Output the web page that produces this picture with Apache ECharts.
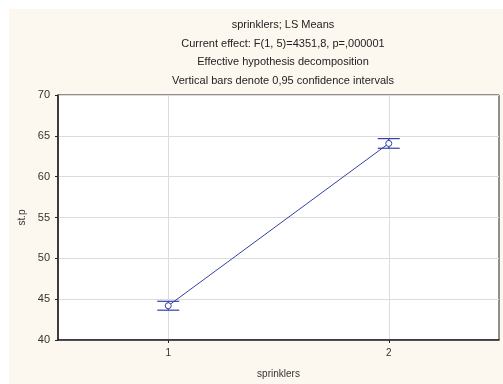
<!DOCTYPE html>
<html><head><meta charset="utf-8">
<script src="https://cdn.jsdelivr.net/npm/echarts@6/dist/echarts.min.js"></script>
<style>html,body{margin:0;padding:0;background:#fff;}#c{width:503px;height:384px;}</style>
</head><body><div id="c"></div>
<script>
const categories = [1, 2];
const means = [44.2, 64.07];
const lower = [43.65, 63.48];
const upper = [44.74, 64.66];
const yTicks = [40, 45, 50, 55, 60, 65, 70];
const titleLines = [
  'sprinklers; LS Means',
  'Current effect: F(1, 5)=4351,8, p=,000001',
  'Effective hypothesis decomposition',
  'Vertical bars denote 0,95 confidence intervals'
];

const lineColor = '#3440A6';
const chart = echarts.init(document.getElementById('c'), null, {renderer: 'canvas'});
const font = '"Liberation Sans", Arial, sans-serif';

chart.setOption({
  backgroundColor: '#ffffff',
  animation: false,
  graphic: [{
    type: 'rect', left: 9, top: 9, z: -10,
    shape: {width: 494, height: 375},
    style: {fill: '#FDF8EF'}
  }],
  title: {
    text: titleLines.join('\n'),
    left: 278, top: 11, textAlign: 'center',
    textStyle: {fontFamily: font, fontSize: 11, fontWeight: 'normal', color: '#222', lineHeight: 18.5}
  },
  grid: {left: 58, right: 4, top: 95, bottom: 42, show: true, backgroundColor: '#fff', borderColor: '#222', borderWidth: 1},
  xAxis: {
    type: 'value', min: 0.5, max: 2.5,
    name: 'sprinklers', nameLocation: 'middle', nameGap: 29,
    nameTextStyle: {fontFamily: font, fontSize: 10, color: '#333'},
    axisLine: {show: true, onZero: false, lineStyle: {color: '#222', width: 1.5}},
    axisTick: {show: true, customValues: categories, length: 3, lineStyle: {color: '#222'}},
    axisLabel: {customValues: categories, fontFamily: font, fontSize: 10, color: '#333', margin: 8},
    splitLine: {show: true, lineStyle: {color: '#dcdcdc', type: 'solid'}}
  },
  yAxis: {
    type: 'value', min: 40, max: 70, interval: 5,
    name: 'st.p', nameLocation: 'middle', nameGap: 23,
    nameTextStyle: {fontFamily: font, fontSize: 10, color: '#333'},
    axisLine: {show: true, lineStyle: {color: '#222', width: 1.5}},
    axisTick: {show: true, length: 3, lineStyle: {color: '#222'}},
    axisLabel: {fontFamily: font, fontSize: 11, color: '#333', margin: 8,
      formatter: v => yTicks.includes(v) ? String(v) : ''},
    splitLine: {show: true, lineStyle: {color: '#dcdcdc', type: 'solid'}}
  },
  series: [
    {
      type: 'line',
      data: categories.map((c, i) => [c, means[i]]),
      symbol: 'circle', symbolSize: 6,
      itemStyle: {color: '#fff', borderColor: lineColor, borderWidth: 1},
      lineStyle: {color: lineColor, width: 1},
      z: 3
    },
    {
      type: 'custom',
      data: categories.map((c, i) => [c, lower[i], upper[i]]),
      renderItem: function (params, api) {
        const x = api.value(0);
        const lo = api.coord([x, api.value(1)]);
        const hi = api.coord([x, api.value(2)]);
        const hw = 11;
        const st = {stroke: lineColor, lineWidth: 1.2};
        return {type: 'group', children: [
          {type: 'line', shape: {x1: lo[0], y1: lo[1], x2: hi[0], y2: hi[1]}, style: st},
          {type: 'line', shape: {x1: lo[0]-hw, y1: lo[1], x2: lo[0]+hw, y2: lo[1]}, style: st},
          {type: 'line', shape: {x1: hi[0]-hw, y1: hi[1], x2: hi[0]+hw, y2: hi[1]}, style: st}
        ]};
      },
      z: 2
    }
  ]
});
</script></body></html>
